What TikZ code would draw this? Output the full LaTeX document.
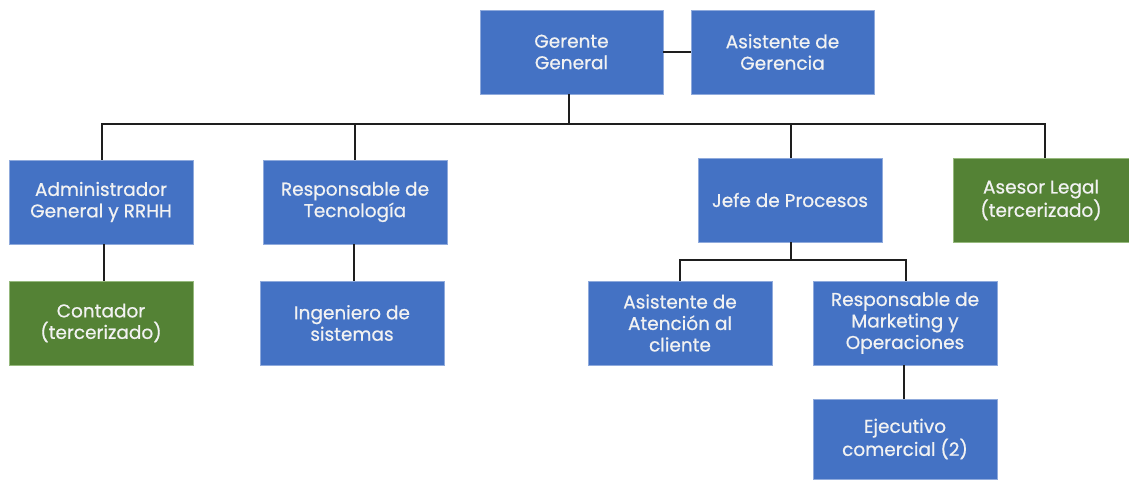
\documentclass[tikz,border=0pt]{standalone}
\usepackage{fontspec}
\setmainfont{Poppins}[FakeBold=0.6]
\definecolor{boxblue}{RGB}{68,114,196}
\definecolor{boxgreen}{RGB}{84,130,53}
\definecolor{edgeblue}{RGB}{143,170,220}
\definecolor{edgegreen}{RGB}{150,185,125}
\definecolor{linec}{RGB}{30,30,30}
\definecolor{txt}{RGB}{242,242,242}
\begin{document}
\begin{tikzpicture}[x=1pt,y=1pt,
  orgbox/.style={fill=boxblue,draw=edgeblue,line width=0.6pt,text=txt,
    minimum width=184pt,minimum height=84pt,align=center,inner sep=2pt,
    font=\fontsize{18.5}{21.5}\selectfont},
  greenbox/.style={orgbox,fill=boxgreen,draw=edgegreen},
  conn/.style={draw=linec,line width=1.4pt}]
\useasboundingbox (0,0) rectangle (1129,-479);
\node[orgbox,minimum width=183pt] (ger) at (571.5,-52) {Gerente\\General};
\node[orgbox,minimum width=183pt] (asg) at (782.5,-52) {Asistente de\\Gerencia};
\node[orgbox] (adm) at (101,-202) {Administrador\\General y RRHH};
\node[orgbox] (rte) at (355,-202) {Responsable de\\Tecnología};
\node[orgbox] (jef) at (790,-200) {Jefe de Procesos};
\node[greenbox,minimum width=176pt] (ase) at (1041,-200) {Asesor Legal\\(tercerizado)};
\node[greenbox] (con) at (101,-323) {Contador\\(tercerizado)};
\node[orgbox] (ing) at (352,-323) {Ingeniero de\\sistemas};
\node[orgbox] (aac) at (680,-323) {Asistente de\\Atención al\\cliente};
\node[orgbox] (rmk) at (905,-323) {Responsable de\\Marketing y\\Operaciones};
\node[orgbox,minimum height=80pt] (eje) at (905,-439) {Ejecutivo\\comercial (2)};
\coordinate (busL) at (102,-124);
\coordinate (busR) at (1045,-124);
\coordinate (gbus) at (569,-124);
\coordinate (subL) at (680,-260);
\coordinate (subR) at (906,-260);
\draw[conn] (ger.east) -- (asg.west);
\draw[conn] ([xshift=-2.5pt]ger.south) -- (gbus);
\draw[conn,line cap=rect] (busL) -- (busR);
\draw[conn] (busL) -- ([xshift=1pt]adm.north);
\draw[conn] (rte.north |- busL) -- (rte.north);
\draw[conn] ([xshift=1pt]jef.north |- busL) -- ([xshift=1pt]jef.north);
\draw[conn] (busR) -- ([xshift=4pt]ase.north);
\draw[conn] ([xshift=3pt]adm.south) -- ([xshift=3pt]con.north);
\draw[conn] ([xshift=-1pt]rte.south) -- ([xshift=2pt]ing.north);
\draw[conn] ([xshift=1pt]jef.south) -- ([xshift=1pt]jef.south |- subL);
\draw[conn,line cap=rect] (subL) -- (subR);
\draw[conn] (subL) -- (aac.north);
\draw[conn] (subR) -- ([xshift=1pt]rmk.north);
\draw[conn] ([xshift=-1pt]rmk.south) -- ([xshift=-1pt]eje.north);
\end{tikzpicture}
\end{document}
